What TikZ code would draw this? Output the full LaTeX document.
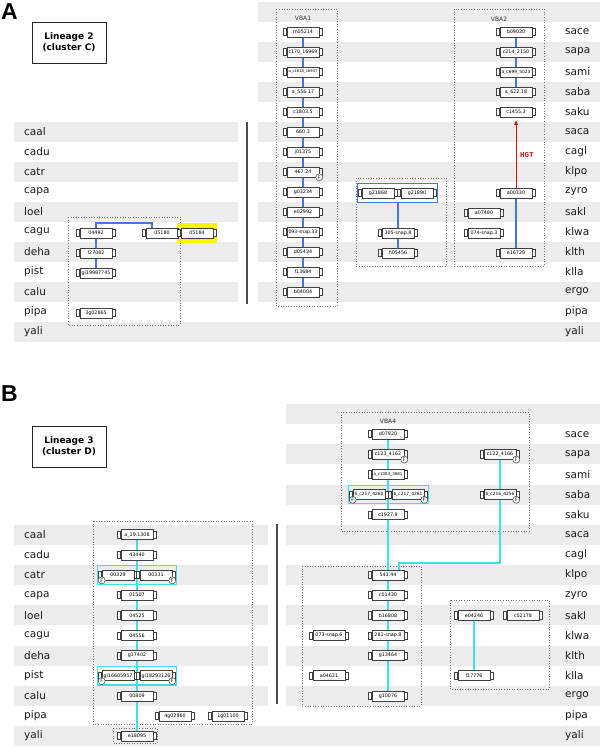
\documentclass[tikz,border=0pt]{standalone}
\usepackage{fontspec}
\usepackage{graphicx}
\setmainfont{DejaVu Sans}
\newfontfamily\hgtfont{Liberation Mono}
\newfontfamily\panelfont{Liberation Sans}
\usetikzlibrary{fit,arrows.meta}
\pgfdeclarelayer{bands}
\pgfdeclarelayer{lines}
\pgfsetlayers{bands,lines,main}
\definecolor{bandgray}{RGB}{236,236,236}
\definecolor{linkblue}{RGB}{72,118,215}
\definecolor{linkcyan}{RGB}{64,224,230}
\definecolor{hgtred}{RGB}{205,20,20}
\definecolor{hilite}{RGB}{250,245,0}
\newcommand\genefont{\fontsize{4.8}{5}\selectfont}
\newcommand\fitlabel[1]{\sbox0{#1}\ifdim\wd0>29pt\resizebox{29pt}{!}{#1}\else#1\fi}
\newcommand\gn[3]{%
  \node[gene] (#1) at (#2) {\fitlabel{#3}};
  \draw[capst] ([xshift=-3pt,yshift=-3.6pt]#1.west) rectangle ([yshift=3.6pt]#1.west);
  \draw[capst] ([yshift=-3.6pt]#1.east) rectangle ([xshift=3pt,yshift=3.6pt]#1.east);
}
\newcommand\fm[2]{\node[fmark] (#1-F) at (#1.#2) {F};}
\newcommand\rb[1]{414+20.13*#1}
\tikzset{
  sp/.style={anchor=west, font=\fontsize{10.5}{12}\selectfont, text=black!90, inner sep=0pt},
  gene/.style={draw=black!75, fill=white, line width=0.6pt, minimum width=32pt, minimum height=10pt, inner sep=0pt, font=\genefont},
  capst/.style={draw=black!75, line width=0.6pt, fill=white},
  fmark/.style={circle, draw=black!75, fill=white, line width=0.5pt, inner sep=0pt, minimum size=7pt, font=\fontsize{4.8}{5}\selectfont},
  dotbox/.style={draw=black!55, dotted, line width=0.6pt},
  bl/.style={draw=linkblue, line width=2.5pt},
  cy/.style={draw=linkcyan, line width=2.5pt},
  grpblue/.style={draw=linkblue, line width=1.3pt, inner xsep=4.5pt, inner ysep=4.5pt},
  grpcyan/.style={draw=linkcyan, line width=1.3pt, inner xsep=4.5pt, inner ysep=4pt},
  hl/.style={fill=hilite, inner xsep=4pt, inner ysep=4.5pt},
  lin/.style={draw=black!85, line width=1pt, align=center, font=\bfseries\fontsize{9}{11}\selectfont, minimum width=74pt, minimum height=41pt, inner sep=0pt},
  vba/.style={font=\fontsize{6}{7}\selectfont, text=black!80, inner sep=0pt},
  sepline/.style={draw=black!70, line width=1.2pt},
  panel/.style={anchor=north west, inner sep=0pt, font=\panelfont\bfseries\fontsize{23}{23}\selectfont},
  hgtarrow/.style={draw=hgtred, line width=1pt, -{Triangle[length=4.5pt,width=3.5pt]}},
}
\begin{document}
\begin{tikzpicture}[x=1pt,y=-1pt]
\useasboundingbox (0,0) rectangle (600,748);
% ---------------- bands ----------------
\begin{pgfonlayer}{bands}
\fill[white] (0,0) rectangle (600,748);
\foreach \k in {0,2,...,14} \fill[bandgray] (258,{2+20*\k}) rectangle (600,{22+20*\k});
\foreach \k in {6,8,...,14} \fill[bandgray] (14,{2+20*\k}) rectangle (238,{22+20*\k});
\fill[bandgray] (14,322) rectangle (600,342);
\foreach \k in {0,2,...,14} \fill[bandgray] (286,{404+20.13*\k}) rectangle (600,{424+20.13*\k});
\foreach \k in {6,8,...,14} \fill[bandgray] (14,{404+20.13*\k}) rectangle (268,{424+20.13*\k});
\fill[bandgray] (14,{404+20.13*16}) rectangle (600,{424+20.13*16});
\end{pgfonlayer}
% ---------------- panel A ----------------
\node[panel] (pA) at (1,3) {A};
\node[lin] (linA) at (69,42.5) {Lineage 2\\(cluster C)};
\foreach \n [count=\k] in {sace,sapa,sami,saba,saku,saca,cagl,klpo,zyro,sakl,klwa,klth,klla,ergo,pipa,yali}
  \node[sp] (aR-\n) at (565,{12+20*\k}) {\n};
\foreach \n [count=\j] in {caal,cadu,catr,capa,loel,cagu,deha,pist,calu,pipa,yali}
  \node[sp] (aL-\n) at (24,{12+20*(\j+5)}) {\n};
\coordinate (sA1) at (247,122);
\coordinate (sA2) at (247,304);
\draw[sepline] (sA1) -- (sA2);
\begin{pgfonlayer}{lines}
\draw[dotbox] (68,217) rectangle (180,325);
\draw[dotbox] (276,9) rectangle (337,306);
\draw[dotbox] (356,178) rectangle (446,266);
\draw[dotbox] (454,9) rectangle (544,266);
\end{pgfonlayer}
\node[vba] (vba1) at (303,18) {VBA1};
\node[vba] (vba2) at (499,19) {VBA2};
% left genes
\gn{a04492}{96,233}{04492}
\gn{a05180}{162,233}{05180}
\gn{a05184}{197,233}{05184}
\gn{af27082}{96,253}{f27082}
\gn{agi1998}{96,273}{gi19987745}
\gn{a3g02865}{96,313}{3g02865}
\begin{pgfonlayer}{lines}
\node[hl, fit=(a05184)] (hlA) {};
\coordinate (aj) at (152,223);
\draw[bl] (a04492.center) -- (agi1998.center);
\draw[bl] (a04492.center) |- (aj) -- (aj |- a05180.center);
\end{pgfonlayer}
% VBA1
\foreach \t [count=\k] in {m05214,c170\_16969,a\_c1818\_16957,a\_556.17,c1803.5,660.3,j01375,467.24,g03234,e02992,093-snap.33,d05434,f13684,b04004}
  {\gn{v1-\k}{303,{12+20*\k}}{\t}}
\fm{v1-8}{south east}
\begin{pgfonlayer}{lines}
\draw[bl] (v1-1.center) -- (v1-14.center);
\end{pgfonlayer}
% middle
\gn{g21868}{378,193}{g21868}
\gn{g21890}{417,193}{g21890}
\gn{s305}{398,233}{305-snap.8}
\gn{h05456}{398,253}{h05456}
\node[grpblue, fit=(g21868)(g21890)] (grpA) {};
\begin{pgfonlayer}{lines}
\draw[bl] (grpA.south -| s305) -- (h05456.center);
\end{pgfonlayer}
% VBA2
\foreach \t [count=\k] in {b09020,c214\_2150,a\_c699\_5023,a\_622.18,c1455.3}
  {\gn{v2-\k}{516,{12+20*\k}}{\t}}
\gn{a00330}{516,193}{a00330}
\gn{a07480}{484,213}{a07480}
\gn{a074}{484,233}{074-snap.3}
\gn{e16720}{516,253}{e16720}
\begin{pgfonlayer}{lines}
\draw[bl] (v2-1.center) -- (v2-4.center);
\draw[bl] (a00330.center) -- (e16720.center);
\end{pgfonlayer}
\draw[hgtarrow] (a00330.north) -- ([yshift=-3pt]v2-5.south);
\node[anchor=west, inner sep=0pt, font=\hgtfont\bfseries\fontsize{7.5}{8}\selectfont, text=hgtred] (hgt) at (520,155) {HGT};
% ---------------- panel B ----------------
\node[panel] (pB) at (1,385) {B};
\node[lin] (linB) at (69,446.5) {Lineage 3\\(cluster D)};
\foreach \n [count=\k] in {sace,sapa,sami,saba,saku,saca,cagl,klpo,zyro,sakl,klwa,klth,klla,ergo,pipa,yali}
  \node[sp] (bR-\n) at (565,{414+20.13*\k}) {\n};
\foreach \n [count=\j] in {caal,cadu,catr,capa,loel,cagu,deha,pist,calu,pipa,yali}
  \node[sp] (bL-\n) at (24,{414+20.13*(\j+5)}) {\n};
\coordinate (sB1) at (277,524);
\coordinate (sB2) at (277,704);
\draw[sepline] (sB1) -- (sB2);
\begin{pgfonlayer}{lines}
\draw[dotbox] (93,521) rectangle (252,724);
\draw[dotbox] (113,728) rectangle (157,743);
\draw[dotbox] (341,412) rectangle (529,531);
\draw[dotbox] (302,566) rectangle (421,706);
\draw[dotbox] (450,600) rectangle (549,689);
\end{pgfonlayer}
\node[vba] (vba4) at (388,421) {VBA4};
% left B
\gn{bcaal}{137,{\rb{6}}}{a\_19.1308}
\gn{b43440}{137,{\rb{7}}}{43440}
\gn{b00329}{118,{\rb{8}}}{00329}
\gn{b00331}{156,{\rb{8}}}{00331}
\gn{b01507}{137,{\rb{9}}}{01507}
\gn{b04525}{137,{\rb{10}}}{04525}
\gn{b04556}{137,{\rb{11}}}{04556}
\gn{bg17402}{137,{\rb{12}}}{g17402}
\gn{bgi166}{118,{\rb{13}}}{gi16605957}
\gn{bgi182}{156,{\rb{13}}}{gi18293126}
\gn{b00809}{137,{\rb{14}}}{00809}
\gn{b4g02960}{175,{\rb{15}}}{4g02960}
\gn{b1g01100}{228,{\rb{15}}}{1g01100}
\gn{be18095}{137,{\rb{16}}}{e18095}
\node[grpcyan, fit=(b00329)(b00331)] (gcatr) {};
\node[grpcyan, fit=(bgi166)(bgi182)] (gpist) {};
\fm{b00329}{south west}
\fm{b00331}{south east}
\fm{bgi166}{south west}
\fm{bgi182}{south east}
\begin{pgfonlayer}{lines}
\draw[cy] (bcaal.center) -- (be18095.center);
\end{pgfonlayer}
% right B
\gn{rd07920}{388,{\rb{1}}}{d07920}
\gn{rc123}{388,{\rb{2}}}{c123\_4162}
\gn{rac1083}{388,{\rb{3}}}{a\_c1083\_3681}
\gn{rb4260}{369,{\rb{4}}}{b\_c217\_4260}
\gn{rb4261}{408,{\rb{4}}}{b\_c217\_4261}
\gn{rc1927}{388,{\rb{5}}}{c1927.9}
\gn{rc122}{500,{\rb{2}}}{c122\_4166}
\gn{rb4256}{500,{\rb{4}}}{b\_c216\_4256}
\node[grpcyan, fit=(rb4260)(rb4261)] (gsaba) {};
\fm{rc123}{south east}
\fm{rb4260}{south west}
\fm{rb4261}{south east}
\fm{rc122}{south east}
\fm{rb4256}{south east}
\gn{r54344}{388,{\rb{8}}}{543.44}
\gn{rc01430}{388,{\rb{9}}}{c01430}
\gn{rb16808}{388,{\rb{10}}}{b16808}
\gn{rs281}{388,{\rb{11}}}{281-snap.8}
\gn{rg13464}{388,{\rb{12}}}{g13464}
\gn{rg10076}{388,{\rb{14}}}{g10076}
\gn{rs073}{329,{\rb{11}}}{073-snap.6}
\gn{ra04631}{329,{\rb{13}}}{a04631}
\gn{re04246}{474,{\rb{10}}}{e04246}
\gn{rc02178}{523,{\rb{10}}}{c02178}
\gn{rf17776}{474,{\rb{13}}}{f17776}
\begin{pgfonlayer}{lines}
\coordinate (rj) at (399,563);
\draw[cy] (rd07920.center) -- (rg10076.center);
\draw[cy] (rc122.center) |- (rj) -- (rj |- r54344.north);
\draw[cy] (re04246.center) -- (rf17776.center);
\end{pgfonlayer}
\end{tikzpicture}
\end{document}
